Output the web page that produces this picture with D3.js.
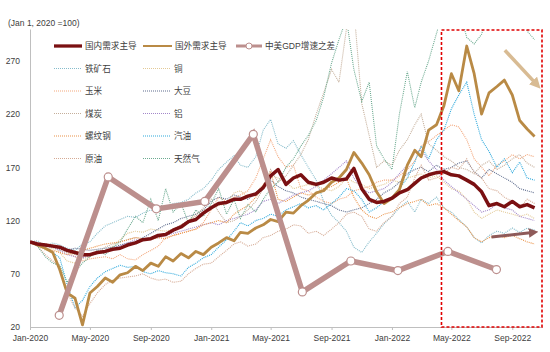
<!DOCTYPE html>
<html>
<head>
<meta charset="utf-8">
<script src="https://cdn.jsdelivr.net/npm/d3@7"></script>
<style>
  body { margin: 0; background: #fff; }
  svg text { font-family: "Liberation Sans", Arial, "Noto Sans CJK SC", sans-serif; fill: #404040; }
</style>
</head>
<body>
<div id="chart"></div>
<script>
// semi-monthly observation dates, Jan 2020 .. mid Oct 2022
const dates = d3.timeMonth.range(new Date(2020, 0, 1), new Date(2022, 10, 1))
    .flatMap(m => [m, d3.timeDay.offset(m, 15)]);

const domestic = [100,98,97,96,95,92,90,88,88,90,
    91,93,94,97,99,102,103,106,107,111,
    114,119,121,127,132,136,137,140,140,143,
    145,151,162,168,154,160,163,156,154,156,
    160,158,159,169,150,140,137,138,141,146,
    149,155,160,163,165,166,163,162,158,154,
    147,134,136,133,138,133,135,132];

const foreign = [100,97,94,90,74,52,47,22,52,58,
    66,62,69,71,77,73,80,77,86,82,
    89,85,91,88,95,99,104,101,109,108,
    113,116,121,119,128,127,134,139,146,148,
    156,160,168,184,174,163,147,136,141,149,
    172,186,180,205,210,228,258,242,284,258,
    220,240,246,252,238,214,206,199];

const ironOre = [100,101,96,99,97,94,92,98,100,108,
    115,118,121,124,123,127,130,128,133,136,
    137,140,146,150,158,168,175,181,172,170,
    180,205,215,192,188,195,182,170,158,138,
    125,118,110,95,90,100,108,117,124,132,
    138,128,140,136,142,132,128,121,114,104,
    99,106,110,108,113,109,113,111];

const copper = [100,97,92,94,90,82,80,84,86,90,
    92,96,102,108,110,109,112,111,110,112,
    114,120,126,130,132,134,136,146,148,142,
    146,154,162,160,156,150,152,154,152,150,
    148,152,160,156,154,150,152,154,158,156,
    160,162,164,160,162,156,150,148,140,128,
    122,126,130,128,126,124,126,122];

const corn = [100,99,98,97,95,90,86,82,84,85,
    86,84,88,84,83,88,92,96,104,106,
    108,110,112,118,130,142,138,142,144,148,
    160,178,196,180,170,172,150,148,142,138,
    136,140,142,148,150,152,156,158,158,162,
    168,176,190,194,200,205,210,208,196,178,
    170,162,172,176,182,178,182,180];

const soybean = [100,98,96,95,93,92,94,93,92,93,
    94,95,97,99,100,104,108,112,116,118,
    122,124,126,130,138,142,140,144,142,140,
    146,152,158,152,148,146,142,140,138,136,
    134,130,128,130,132,136,140,146,150,156,
    164,168,170,166,172,168,170,174,176,166,
    160,168,164,160,156,150,148,146];

const coal = [100,99,98,96,92,90,88,86,87,90,
    95,98,100,102,104,103,104,106,108,112,
    116,120,124,132,140,128,118,120,124,130,
    138,150,168,156,162,172,182,196,220,240,
    262,250,300,320,230,200,170,176,172,186,
    196,210,220,192,186,180,176,170,168,164,
    172,176,168,172,178,182,174,170];

const aluminum = [100,99,96,95,92,88,86,85,87,89,
    92,94,96,99,102,101,103,104,106,108,
    110,112,114,116,118,116,120,122,124,126,
    130,138,140,136,140,144,146,148,152,158,
    164,170,176,160,150,146,148,150,156,164,
    172,184,186,176,168,158,152,146,140,134,
    128,130,136,132,130,124,122,120];

const rebar = [100,98,94,92,90,88,90,92,94,96,
    98,99,100,102,104,103,102,104,103,106,
    108,110,112,116,118,120,118,126,130,134,
    142,152,166,140,138,142,146,144,146,150,
    152,156,160,142,130,124,122,126,128,132,
    136,138,140,134,136,132,126,120,114,104,
    100,104,106,104,106,103,100,98];

const gasoline = [100,98,94,90,85,60,38,45,58,66,
    72,75,78,76,77,72,70,73,71,70,
    68,76,80,85,88,95,102,110,118,115,
    120,122,126,124,130,133,136,132,134,130,
    136,142,150,148,140,128,132,138,142,150,
    160,175,190,178,196,205,225,238,250,220,
    196,185,170,178,165,175,160,158];

const crude = [100,96,88,82,76,52,38,30,42,52,
    60,64,66,67,68,70,66,64,65,62,
    63,70,75,79,80,86,92,98,100,96,
    98,104,106,110,112,116,115,108,110,106,
    112,118,126,128,124,112,110,118,124,136,
    142,160,172,158,160,164,170,168,178,165,
    160,150,148,142,138,132,140,136];

const natGas = [100,96,86,80,78,62,72,80,86,92,
    88,95,100,112,124,118,140,120,150,128,
    136,118,130,124,136,150,126,140,122,135,
    128,140,150,156,170,178,190,200,214,236,
    268,290,310,262,232,250,190,178,168,220,
    260,226,250,270,296,320,330,320,292,286,
    295,320,330,340,330,320,298,290];

// China-US GDP growth gap (quarterly), same axis
const gdpDates = ["2020-02-29","2020-06-07","2020-09-12","2020-12-19","2021-03-27",
    "2021-07-04","2021-10-10","2022-01-13","2022-04-24","2022-07-31"];
const gdpValues = [31,161,131,138,201,53,82,73,91,74];

const yTicks = [20, 70, 120, 170, 220, 270];

const commodityNames = ["铁矿石","铜","玉米","大豆","煤炭","铝","螺纹钢","汽油","原油","天然气"];
const commodityColors = ["#86bccb","#e3c996","#f3a77c","#5f6d8e","#c4ae9a","#a387c9","#ea9248","#2fa9dc","#d5aa94","#6caa90"];
const commodityValues = [ironOre, copper, corn, soybean, coal, aluminum, rebar, gasoline, crude, natGas];

const width = 550, height = 352;
const margin = {top: 29, right: 8, bottom: 25, left: 30};

const svg = d3.select("#chart").append("svg")
    .attr("width", width)
    .attr("height", height);

const x = d3.scaleTime()
    .domain([new Date(2020, 0, 1), new Date(2022, 9, 31)])
    .range([margin.left, width - margin.right]);

const y = d3.scaleLinear()
    .domain([20, 300])
    .range([height - margin.bottom, margin.top]);

svg.append("clipPath").attr("id", "plotClip")
    .append("rect")
    .attr("x", margin.left).attr("y", margin.top)
    .attr("width", width - margin.left - margin.right)
    .attr("height", height - margin.top - margin.bottom);

// title
svg.append("text")
    .attr("x", 8).attr("y", 26)
    .style("font-size", "8.5px")
    .text("(Jan 1, 2020 =100)");

// axes
let xTickVals = d3.timeMonth.every(4).range(new Date(2020, 0, 1), new Date(2022, 9, 2));
let xAxis = svg.append("g")
    .attr("transform", "translate(0," + y(20) + ")")
    .call(d3.axisBottom(x).tickValues(xTickVals).tickFormat(d3.timeFormat("%b-%Y"))
        .tickSize(3).tickSizeOuter(0).tickPadding(5));
xAxis.selectAll("line, path").attr("stroke", "#bfbfbf");
xAxis.selectAll("text").style("font-size", "8.5px").attr("fill", "#404040");

let yAxis = svg.append("g")
    .attr("transform", "translate(" + margin.left + ",0)")
    .call(d3.axisLeft(y).tickValues(yTicks).tickSize(0).tickSizeOuter(0).tickPadding(10));
yAxis.select("path").attr("stroke", "#bfbfbf");
yAxis.selectAll("text").style("font-size", "8.5px").attr("fill", "#404040");

const plot = svg.append("g").attr("clip-path", "url(#plotClip)");

const line = d3.line()
    .x((d, i) => x(dates[i]))
    .y(d => y(d));

// commodity dotted lines
commodityValues.forEach((vals, k) => {
    plot.append("path")
        .datum(vals)
        .attr("d", line)
        .attr("fill", "none")
        .attr("stroke", commodityColors[k])
        .attr("stroke-width", 1.1)
        .attr("stroke-dasharray", "1,1");
});

// main indices
plot.append("path")
    .datum(foreign)
    .attr("d", line)
    .attr("fill", "none")
    .attr("stroke", "#b98a45")
    .attr("stroke-width", 2.8)
    .attr("stroke-linejoin", "round");

plot.append("path")
    .datum(domestic)
    .attr("d", line)
    .attr("fill", "none")
    .attr("stroke", "#7a1012")
    .attr("stroke-width", 3.5)
    .attr("stroke-linejoin", "round");

// GDP gap
let parseDate = d3.timeParse("%Y-%m-%d");
let gdp = gdpDates.map((d, i) => ({date: parseDate(d), value: gdpValues[i]}));
plot.append("path")
    .datum(gdp)
    .attr("d", d3.line().x(d => x(d.date)).y(d => y(d.value)))
    .attr("fill", "none")
    .attr("stroke", "#bc8f8d")
    .attr("stroke-width", 5.5);
plot.selectAll(".gdpDot")
    .data(gdp)
    .enter().append("circle")
    .attr("class", "gdpDot")
    .attr("cx", d => x(d.date))
    .attr("cy", d => y(d.value))
    .attr("r", 4)
    .attr("fill", "#fff")
    .attr("stroke", "#bc8f8d")
    .attr("stroke-width", 1.2);

// highlight box (Apr 2022 onwards)
svg.append("rect")
    .attr("x", x(new Date(2022, 3, 11)))
    .attr("y", y(299))
    .attr("width", x(new Date(2022, 9, 31)) - x(new Date(2022, 3, 11)))
    .attr("height", y(20) - y(299))
    .attr("fill", "none")
    .attr("stroke", "#e00000")
    .attr("stroke-width", 1.6)
    .attr("stroke-dasharray", "3,2");

// trend arrows
svg.append("defs").selectAll("marker")
    .data([{id: "arrTan", c: "#d8bb93"}, {id: "arrRed", c: "#8e5a59"}])
    .enter().append("marker")
    .attr("id", d => d.id)
    .attr("viewBox", "0 0 10 10")
    .attr("refX", 6).attr("refY", 5)
    .attr("markerWidth", 3.2).attr("markerHeight", 3.2)
    .attr("orient", "auto")
    .append("path")
    .attr("d", "M0,0 L10,5 L0,10 z")
    .attr("fill", d => d.c);

svg.append("line")
    .attr("x1", x(new Date(2022, 7, 17))).attr("y1", y(280))
    .attr("x2", x(new Date(2022, 9, 22))).attr("y2", y(247))
    .attr("stroke", "#d8bb93").attr("stroke-width", 3.5)
    .attr("marker-end", "url(#arrTan)");

svg.append("line")
    .attr("x1", x(new Date(2022, 6, 21))).attr("y1", y(104.5))
    .attr("x2", x(new Date(2022, 9, 16))).attr("y2", y(109))
    .attr("stroke", "#8e5a59").attr("stroke-width", 3)
    .attr("marker-end", "url(#arrRed)");

// legend
const legendRows = [46, 68.5, 91, 113.5, 136, 158.5];
const colX = [54, 143];

let lg = svg.append("g");
function legendText(xp, yp, label) {
    lg.append("text").attr("x", xp).attr("y", yp).attr("dy", "0.35em")
        .style("font-size", "8.6px").text(label);
}

lg.append("line").attr("x1", 54).attr("x2", 82).attr("y1", legendRows[0]).attr("y2", legendRows[0])
    .attr("stroke", "#7a1012").attr("stroke-width", 3.3);
legendText(85, legendRows[0], "国内需求主导");
lg.append("line").attr("x1", 143).attr("x2", 172).attr("y1", legendRows[0]).attr("y2", legendRows[0])
    .attr("stroke", "#b98a45").attr("stroke-width", 2);
legendText(175, legendRows[0], "国外需求主导");
lg.append("line").attr("x1", 236).attr("x2", 262).attr("y1", legendRows[0]).attr("y2", legendRows[0])
    .attr("stroke", "#bc8f8d").attr("stroke-width", 3);
lg.append("circle").attr("cx", 249).attr("cy", legendRows[0]).attr("r", 3)
    .attr("fill", "#fff").attr("stroke", "#bc8f8d").attr("stroke-width", 1);
legendText(265, legendRows[0], "中美GDP增速之差");

commodityNames.forEach((name, k) => {
    let row = legendRows[1 + Math.floor(k / 2)];
    let cx = colX[k % 2];
    lg.append("line").attr("x1", cx).attr("x2", cx + 28).attr("y1", row).attr("y2", row)
        .attr("stroke", commodityColors[k]).attr("stroke-width", 1.1)
        .attr("stroke-dasharray", "1,1");
    legendText(cx + 31, row, name);
});
</script>
</body>
</html>
